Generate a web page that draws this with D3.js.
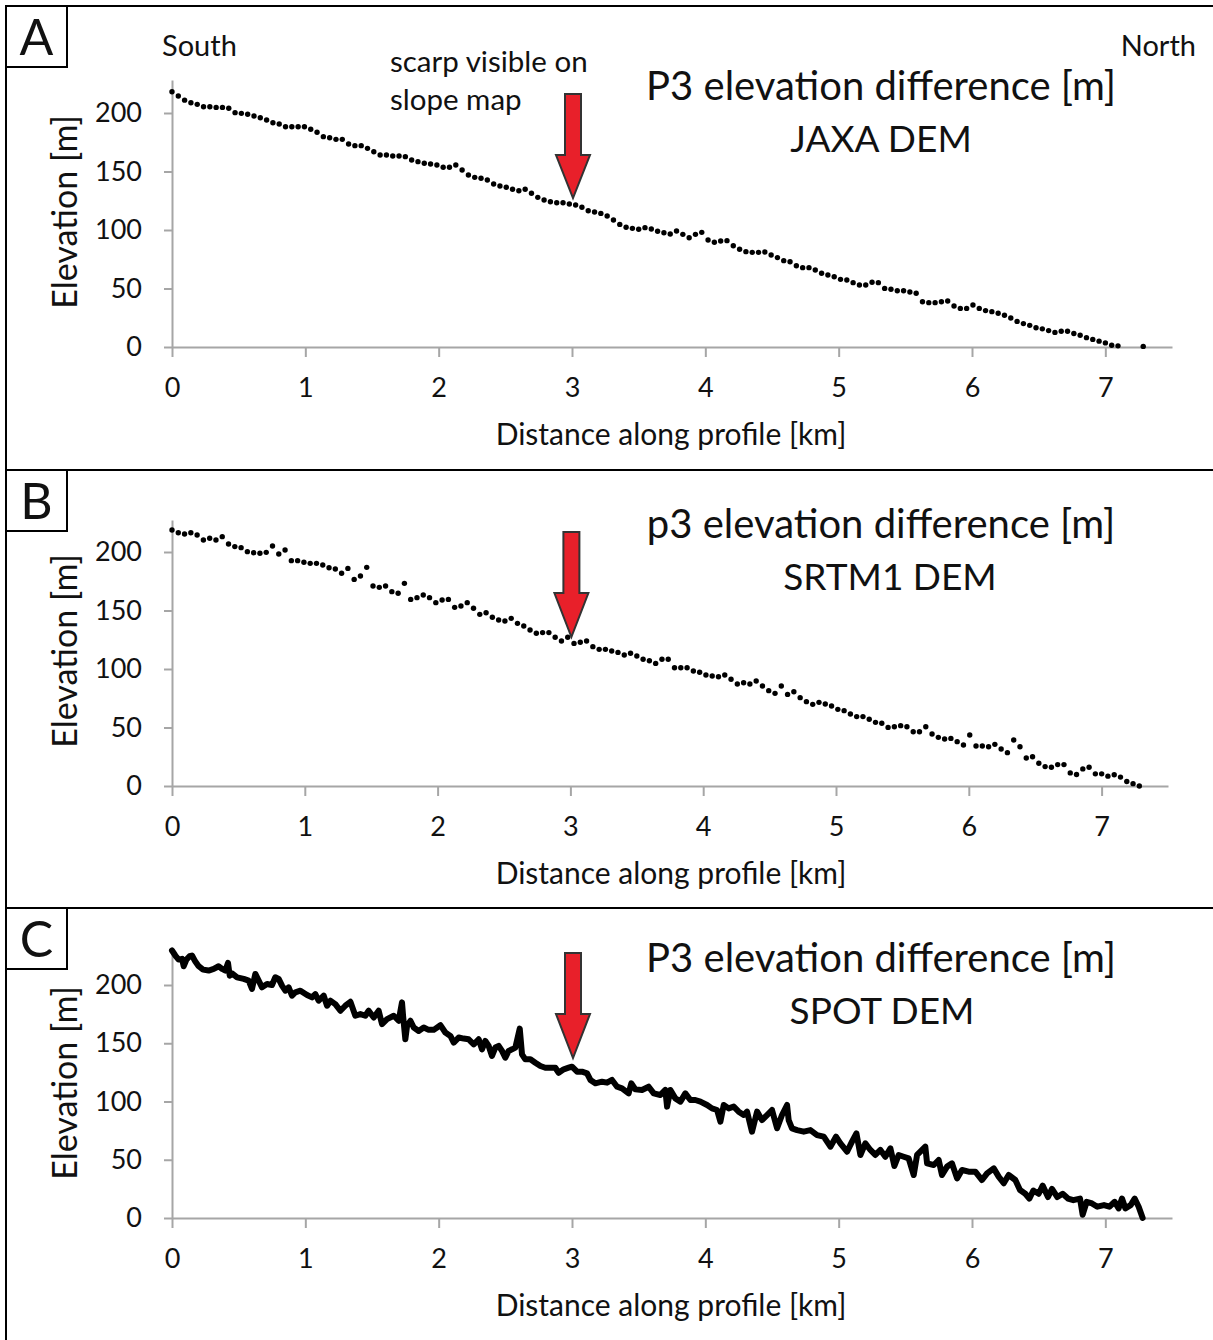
<!DOCTYPE html>
<html>
<head>
<meta charset="utf-8">
<script src="https://cdn.jsdelivr.net/npm/d3@7"></script>
<style>
    body { margin: 0; background: #fff; }
    svg text { font-family: Lato, "Open Sans", sans-serif; fill: #111; }
</style>
</head>
<body>
<svg id="figure" width="1213" height="1340"></svg>
<script>

// profile values (elevation in m, distance in km)
const profileStepKm = 0.0473;

const jaxaElevation = [
    218.2, 214.5, 211, 208.8, 207.4, 205.4, 205.4, 204.8, 204.8, 204, 200.3, 199.7, 198.9, 197.4, 196, 194,
    191.7, 190.6, 188.3, 188.3, 188.3, 188.3, 186.1, 183.5, 179.8, 178.9, 177.5, 177.5, 173.5, 172.1, 172.1,
    169.8, 166.9, 164.1, 164.1, 163.2, 163.2, 162.7, 159.8, 158.4, 157, 156.4, 155.6, 153.6, 153.6, 155.6,
    151.3, 147, 145, 144.2, 142.7, 139.3, 137.6, 136.5, 134.8, 133.6, 134.8, 131.4, 127.9, 125.6, 124.2,
    123.3, 123.3, 122.2,
    121.4, 119.4, 116.5, 115.4, 114.2, 112, 108.5, 104.8, 102.3, 101.4, 100.6, 102, 100.9, 98.9, 97.7, 96.6,
    99.1, 96.3, 93.4, 96.3, 98, 91.5, 89.5, 90.6, 90.9, 86.6, 83.5, 81.5, 80.9, 80.9, 81.2, 78.6, 76.4, 73.8,
    72.9, 69.5, 67.8, 67.8, 65.8, 63, 61.5, 60.1, 57.8, 57.3, 55, 53, 53, 55.3, 55, 50.1, 49.3, 48.1, 48.1,
    47, 45.9, 38.7, 37.9, 37.9, 38.7, 39.3, 35, 33, 33, 35.9, 33, 31.1, 30.2, 28.8, 27.1, 24.8, 21.9,
    20, 18.5, 16.5, 15.5, 14, 12.5, 13.5, 13.5, 11.5, 10, 8, 6.5, 5, 3.5, 1.5, 1,
    null, null, null, 0.5
];

const srtmElevation = [
    218.8, 216.5, 215.4, 216.5, 214.5, 210.3, 211.7, 210.3, 213.1, 206.8, 204.6, 203.7, 200.3, 199.4, 198.9,
    199.7, 205.1, 198.3, 201.7, 192.6, 192.6, 191.2, 190.3, 190.3, 188.9, 186.6, 185.5, 181.8, 186, 176.6,
    179.5, 186.9, 170.9, 169.8, 170.9, 166.1, 164.7, 173.2, 159.5, 161, 163.2, 161, 156.7, 159, 159.5, 152.7,
    153.8, 156.7, 151.9, 146.7, 148.1, 144.2, 141.9, 141, 143.3, 139, 136.8, 133.3, 130.5, 131.1, 131.1,
    127.1, 123.9, 127.1,
    121.9, 122.8, 123.9, 119.1, 116.8, 116.8, 115.4, 114.2, 112, 113.4, 111.1, 108.3, 107.1, 104.8, 108.3,
    108.3, 101.1, 101.1, 101.1, 98.3, 97.2, 94.9, 94, 93.4, 94.9, 91.2, 87.2, 88.3, 87.2, 89.7, 85.5, 81.5,
    79.2, 85.5, 78.3, 80.6, 75.5, 72.1, 69.8, 71.5, 70.1, 68.4, 65.5, 64.4, 61.5, 59.3, 59.3, 57, 54.4, 53.6,
    50.1, 50.7, 51.6, 50.7, 46.4, 46.4, 50.7, 44.4, 41.6, 40.2, 40.7, 37.9, 35, 43.6, 34.2, 34.2, 33.6, 35.6,
    31.6, 28.5, 39.3, 33.6,
    23.9, 25, 19.4, 16.6, 16, 18.3, 18.3, 11.2, 9.8, 14.6, 16, 10.4, 10.4, 8.4, 9.6, 7.6, 3.9, 2, 0
];

const spotDistance = [
    0, 0.025, 0.05, 0.075, 0.088, 0.108, 0.133, 0.15, 0.175, 0.2, 0.233, 0.275, 0.313, 0.35, 0.375, 0.4,
    0.42, 0.433, 0.45, 0.488, 0.538, 0.575, 0.6, 0.625, 0.65, 0.675, 0.713, 0.75, 0.775, 0.8, 0.825, 0.85,
    0.875, 0.9, 0.925, 0.963, 1.013, 1.05, 1.075, 1.1, 1.138, 1.163, 1.188, 1.225, 1.263, 1.3, 1.338, 1.375,
    1.413, 1.45, 1.475, 1.513, 1.55, 1.575, 1.613, 1.663, 1.7, 1.725, 1.733, 1.75, 1.763, 1.788, 1.813, 1.85,
    1.888, 1.925, 1.963, 2.013, 2.05, 2.088, 2.113, 2.15, 2.188, 2.225, 2.263, 2.3, 2.325, 2.35, 2.375, 2.4,
    2.425, 2.45, 2.475, 2.5, 2.525, 2.55, 2.575, 2.608, 2.625, 2.65, 2.688, 2.725, 2.763, 2.8, 2.838, 2.875,
    2.9, 2.938, 2.975,
    3.0, 3.038, 3.075, 3.113, 3.138, 3.175, 3.225, 3.263, 3.3, 3.338, 3.375, 3.425, 3.445, 3.475, 3.525,
    3.575, 3.613, 3.663, 3.7, 3.713, 3.738, 3.775, 3.813, 3.85, 3.888, 3.925, 3.963, 4.013, 4.05, 4.088,
    4.113, 4.138, 4.175, 4.213, 4.25, 4.288, 4.313, 4.35, 4.388, 4.425, 4.463, 4.5, 4.538, 4.575, 4.613,
    4.625, 4.65, 4.688, 4.738, 4.788, 4.838, 4.888, 4.938, 4.98, 5.013, 5.063, 5.1, 5.133, 5.163, 5.2, 5.238,
    5.275, 5.313, 5.35, 5.388, 5.418, 5.45, 5.488, 5.525, 5.563, 5.588, 5.65, 5.663, 5.713, 5.75, 5.775,
    5.813, 5.85, 5.888, 5.925, 5.975, 6.025, 6.075, 6.113, 6.163, 6.2, 6.238, 6.275, 6.325,
    6.36, 6.4, 6.43, 6.46, 6.5, 6.53, 6.57, 6.6, 6.64, 6.68, 6.72, 6.76, 6.81, 6.83, 6.86, 6.9, 6.94, 6.99,
    7.03, 7.07, 7.1, 7.125, 7.15, 7.19, 7.22, 7.25, 7.28
];

const spotElevation = [
    229.6, 225.3, 221.8, 222.4, 216.1, 221.8, 224.7, 225.3, 220.1, 216.1, 213.2, 212.4, 213.8, 216.1, 213.8,
    212.4, 219, 208, 210, 206.6, 205.2, 203.7, 196.6, 209.5, 203.7, 198, 200.9, 200, 206.6, 205.2, 199.4,
    195.1, 198, 190.8, 193.7, 195.1, 191.4, 189.4, 192.2, 186.5, 190.8, 182.2, 186.5, 183.6, 177.9, 182.2,
    185.6, 173.6, 175, 173.6, 177.9, 172.1, 177.9, 166.4, 170.7, 173.6, 169.3, 185.1, 173.6, 153.4, 164.9,
    169.3, 163.5, 160.6, 163.5, 161.5, 161.5, 165.5, 159.2, 156.3, 150.6, 154.9, 154, 153.4, 149.1, 153.4,
    144.8, 152, 147.7, 139.1, 146.3, 147.7, 143.4, 137.6, 143.4, 144.8, 146.3, 162.6, 140.5, 136.2, 136.2,
    133.3, 130.5, 129, 129, 129, 124.7, 127.6, 129,
    129.9, 125.6, 125.6, 124.2, 118.5, 115.6, 117, 116.2, 118.5, 112.7, 111.3, 107, 115.6, 110.4, 109.9,
    112.7, 107, 105.6, 109.9, 95.6, 109.9, 102.7, 99.9, 107, 101.3, 101.3, 99.9, 97, 94.1, 92.7, 82.7, 97,
    94.1, 95.6, 91.3, 88.4, 91.3, 74.1, 91.3, 84.1, 88.4, 92.7, 77, 88.4, 97, 84.1, 77, 75.5, 74.1, 75.5,
    71.2, 69.8, 61.2, 69.8, 64.1, 56.9, 65.5, 72.7, 54.1, 64.1, 58.4, 54.1, 58.4, 52.6, 59.8, 44.6, 54.1,
    52.6, 51.2, 36.9, 54.1, 61.2, 46.9, 45.5, 49.8, 36.9, 44.1, 46.9, 34, 41.2, 39.8, 39.8, 32.6, 38.3, 42.6,
    35.5, 29.8, 36.9, 32.6,
    24, 20.8, 16.7, 23.6, 20.8, 27.8, 18, 25, 18, 20.8, 16.7, 15.3, 16.7, 2.8, 13.9, 12.5, 9.7, 11.1, 9.7,
    13.9, 8.3, 16.7, 8.3, 11.1, 16.7, 9.7, 0
];

const panelLetters = ["A", "B", "C"];
const titleTexts = ["P3 elevation difference [m]", "p3 elevation difference [m]", "P3 elevation difference [m]"];
const demNames = ["JAXA DEM", "SRTM1 DEM", "SPOT DEM"];
const xTickValues = [0, 1, 2, 3, 4, 5, 6, 7];
const yTickValues = [0, 50, 100, 150, 200];
const scarpKm = 3;
const xAxisLabel = "Distance along profile [km]";
const yAxisLabel = "Elevation [m]";

// layout of the three stacked panels (pixel positions on the page)
const panelLayout = [
    {top: 6,   xLeft: 172, xRight: 1172, yZero: 347,  y200: 113, yTop: 80,  titleY: 100,  demY: 152,  demX: 881, arrowTop: 94,  arrowBase: 155,  arrowTip: 198},
    {top: 470, xLeft: 172, xRight: 1168, yZero: 786,  y200: 552, yTop: 520, titleY: 538,  demY: 590,  demX: 890, arrowTop: 532, arrowBase: 593,  arrowTip: 637},
    {top: 908, xLeft: 172, xRight: 1172, yZero: 1218, y200: 985, yTop: 950, titleY: 972,  demY: 1024, demX: 882, arrowTop: 953, arrowBase: 1014, arrowTip: 1058}
];

const axisColor = "#a6a6a6";

const svg = d3.select("#figure");

drawFrame();
panelLayout.forEach(function (layout, i) {
    drawPanel(layout, i);
});
drawDirectionLabels();

function drawFrame() {
    const frame = svg.append("g").attr("stroke", "#000").attr("stroke-width", 2);
    frame.append("line").attr("x1", 5).attr("x2", 1213).attr("y1", 6).attr("y2", 6);
    frame.append("line").attr("x1", 6).attr("x2", 6).attr("y1", 5).attr("y2", 1340);
    [470, 908].forEach(function (y) {
        frame.append("line").attr("x1", 6).attr("x2", 1213).attr("y1", y).attr("y2", y);
    });
}

function drawPanel(layout, i) {
    const g = svg.append("g");

    let xScale = d3.scaleLinear()
        .domain([0, 7.5])
        .range([layout.xLeft, layout.xRight]);

    let yScale = d3.scaleLinear()
        .domain([0, 200])
        .range([layout.yZero, layout.y200]);
    yScale.domain([0, yScale.invert(layout.yTop)]).range([layout.yZero, layout.yTop]);

    // axes
    let xAxis = g.append("g")
        .attr("transform", "translate(0," + layout.yZero + ")")
        .call(d3.axisBottom(xScale).tickValues(xTickValues).tickSize(10).tickSizeOuter(0).tickPadding(21));
    let yAxis = g.append("g")
        .attr("transform", "translate(" + layout.xLeft + ",0)")
        .call(d3.axisLeft(yScale).tickValues(yTickValues).tickSize(8).tickSizeOuter(0).tickPadding(22));

    [xAxis, yAxis].forEach(function (axis) {
        axis.selectAll("path, line").attr("stroke", axisColor).attr("stroke-width", 2);
        axis.selectAll("text").attr("font-size", "27px").attr("fill", "#111")
            .style("font-family", "Lato, sans-serif");
    });

    g.append("text")
        .attr("x", 671)
        .attr("y", layout.yZero + 98)
        .attr("text-anchor", "middle")
        .attr("font-size", "30px")
        .text(xAxisLabel);

    g.append("text")
        .attr("transform", "translate(77," + (layout.yZero - 135) + ") rotate(-90)")
        .attr("text-anchor", "middle")
        .attr("font-size", "34px")
        .text(yAxisLabel);

    // data
    if (i < 2) {
        let values = i === 0 ? jaxaElevation : srtmElevation;
        let points = values.map(function (v, k) {
            return {x: k * profileStepKm, y: v};
        }).filter(function (d) {
            return d.y !== null;
        });
        g.append("g").selectAll("circle")
            .data(points)
            .enter()
            .append("circle")
            .attr("cx", function (d) { return xScale(d.x); })
            .attr("cy", function (d) { return yScale(d.y); })
            .attr("r", 2.7)
            .attr("fill", "#000");
    } else {
        let points = spotDistance.map(function (d, k) {
            return {x: d, y: spotElevation[k]};
        });
        g.append("path")
            .datum(points)
            .attr("fill", "none")
            .attr("stroke", "#000")
            .attr("stroke-width", 6)
            .attr("stroke-linejoin", "round")
            .attr("stroke-linecap", "round")
            .attr("d", d3.line()
                .x(function (d) { return xScale(d.x); })
                .y(function (d) { return yScale(d.y); }));
    }

    // scarp arrow
    let cx = xScale(scarpKm) + 1;
    let arrow = [
        [cx - 8, layout.arrowTop], [cx + 8, layout.arrowTop], [cx + 8, layout.arrowBase],
        [cx + 17, layout.arrowBase], [cx, layout.arrowTip], [cx - 17, layout.arrowBase],
        [cx - 8, layout.arrowBase]
    ];
    g.append("path")
        .attr("d", "M" + arrow.join("L") + "Z")
        .attr("fill", "#e8202a")
        .attr("stroke", "#333")
        .attr("stroke-width", 2)
        .attr("stroke-linejoin", "miter");

    // titles
    g.append("text")
        .attr("x", 881)
        .attr("y", layout.titleY)
        .attr("text-anchor", "middle")
        .attr("font-size", "40px")
        .text(titleTexts[i]);
    g.append("text")
        .attr("x", layout.demX)
        .attr("y", layout.demY)
        .attr("text-anchor", "middle")
        .attr("font-size", "37px")
        .text(demNames[i]);

    // panel letter
    g.append("rect")
        .attr("x", 6)
        .attr("y", layout.top)
        .attr("width", 61)
        .attr("height", 61)
        .attr("fill", "#fff")
        .attr("stroke", "#000")
        .attr("stroke-width", 2);
    g.append("text")
        .attr("x", 36.5)
        .attr("y", layout.top + 49)
        .attr("text-anchor", "middle")
        .attr("font-size", "50px")
        .text(panelLetters[i]);
}

function drawDirectionLabels() {
    svg.append("text").attr("x", 162).attr("y", 56).attr("font-size", "29px").text("South");
    svg.append("text").attr("x", 1196).attr("y", 56).attr("text-anchor", "end").attr("font-size", "29px").text("North");
    svg.append("text").attr("x", 390).attr("y", 72).attr("font-size", "29.5px").text("scarp visible on");
    svg.append("text").attr("x", 390).attr("y", 110).attr("font-size", "29.5px").text("slope map");
}

</script>
</body>
</html>
